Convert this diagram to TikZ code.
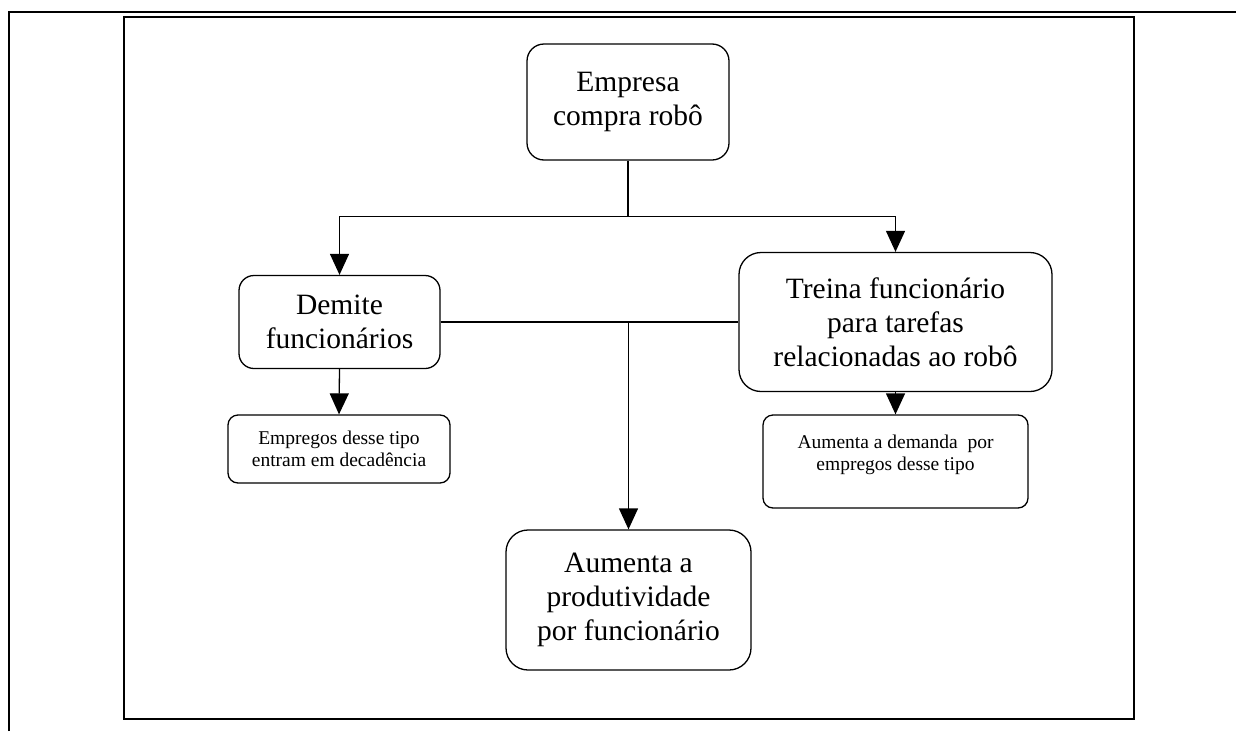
\documentclass[tikz,border=0pt]{standalone}
\usepackage{fontspec}
\setmainfont{Liberation Serif}
\usetikzlibrary{arrows.meta,positioning}
\newcommand{\boxline}{1.3pt}
\newcommand{\frameline}{2.5pt}

\begin{document}
\begin{tikzpicture}[x=1pt,y=-1pt,
        caixa/.style={draw, rounded corners=17pt, line width=\boxline, align=center,
            font=\fontsize{29.5}{34}\selectfont, inner sep=0pt},
        caixinha/.style={draw, rounded corners=10pt, line width=\boxline, align=center,
            font=\fontsize{19.5}{22}\selectfont, inner sep=0pt},
        seta/.style={-{Triangle[width=19pt,length=21pt]}, line width=\boxline}]
                %\draw[help lines] (0,0) grid[step=50] (1236,731);
                \useasboundingbox (0,0) rectangle (1236,731);
                % moldura
                \draw[line width=\frameline] (9,731) -- (9,12) -- (1236,12);
                \draw[line width=\frameline] (124,17) rectangle (1134,719);

                \node[caixa, minimum width=202, minimum height=116] (robo) at (628,102) {Empresa\\compra robô};
                \node[caixa, minimum width=201, minimum height=93, rounded corners=15pt] (demite) at (339.5,322) {Demite\\funcionários};
                \node[caixa, minimum width=313, minimum height=139, rounded corners=22pt] (treina) at (895.5,322) {Treina funcionário\\para tarefas\\relacionadas ao robô};
                \node[caixinha, minimum width=222, minimum height=68] (decad) at (339,449) {Empregos desse tipo\\entram em decadência};
                \node[caixinha, minimum width=265, minimum height=93] (demanda) at (895.5,461.5) {Aumenta a demanda\ \ por\\empregos desse tipo\\[-5pt]};
                \node[caixa, minimum width=245, minimum height=140, rounded corners=22pt] (produt) at (628.5,600) {Aumenta a\\produtividade\\por funcionário};

                \draw[line width=\boxline] (robo.south) -- ++(0,56) coordinate (ramo);
                \draw[seta] (ramo) -| (demite.north);
                \draw[seta] (ramo) -| (treina.north);
                \draw[line width=\boxline] (demite.east) -- (treina.west);
                \coordinate (meio) at (produt.north |- demite.east);
                \draw[seta] (meio) -- (produt.north);
                \draw[seta] (demite.south) -- (decad.north);
                \draw[seta] (treina.south) -- (demanda.north);
        \end{tikzpicture}
\end{document}
